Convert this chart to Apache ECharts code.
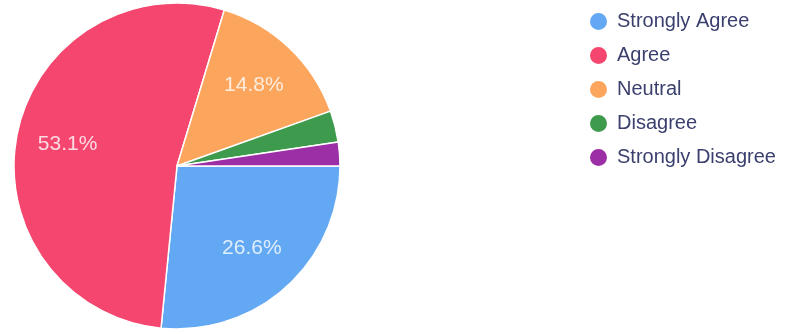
<!DOCTYPE html>
<html>
<head>
<meta charset="utf-8">
<script src="https://cdn.jsdelivr.net/npm/echarts@6/dist/echarts.min.js"></script>
<style>
html,body{margin:0;padding:0;background:#ffffff;}
#chart{width:790px;height:334px;}
</style>
</head>
<body>
<div id="chart"></div>
<script>
const categories = ['Strongly Agree', 'Agree', 'Neutral', 'Disagree', 'Strongly Disagree'];
const values = [34, 68, 19, 4, 3];
const colors = ['#62a8f2', '#f4466e', '#fca55c', '#3e9a4c', '#9c2ea6'];
const showLabel = [true, true, true, false, false];

const total = values.reduce((a, b) => a + b, 0);
const pieData = categories.map((c, i) => ({ name: c, value: values[i], itemStyle: { color: colors[i] } }));
const labelData = categories.map((c, i) => ({
  name: c, value: values[i],
  label: { show: showLabel[i] }
}));

const chart = echarts.init(document.getElementById('chart'));
chart.setOption({
  backgroundColor: '#ffffff',
  animation: false,
  legend: {
    orient: 'vertical',
    left: 583,
    top: 6,
    icon: 'circle',
    itemWidth: 19,
    itemHeight: 19,
    itemGap: 13,
    data: categories,
    textStyle: {
      color: '#3a3f6e',
      fontSize: 20,
      lineHeight: 20,
      padding: [0, 0, 0, 4],
      fontFamily: 'Liberation Sans, Arial, sans-serif'
    }
  },
  series: [
    {
      type: 'pie',
      center: [177, 166],
      radius: [0, 163],
      startAngle: 0,
      clockwise: true,
      label: { show: false },
      labelLine: { show: false },
      itemStyle: { borderColor: '#ffffff', borderWidth: 1.5 },
      data: pieData
    },
    {
      type: 'pie',
      center: [177, 166],
      radius: [54, 163],
      startAngle: 0,
      clockwise: true,
      silent: true,
      legendHoverLink: false,
      itemStyle: { color: 'rgba(0,0,0,0)' },
      emphasis: { disabled: true },
      label: {
        position: 'inside',
        color: 'rgba(255,255,255,0.8)',
        fontSize: 21,
        fontFamily: 'Liberation Sans, Arial, sans-serif',
        formatter: p => (p.value / total * 100).toFixed(1) + '%'
      },
      labelLine: { show: false },
      data: labelData
    }
  ]
});
</script>
</body>
</html>
